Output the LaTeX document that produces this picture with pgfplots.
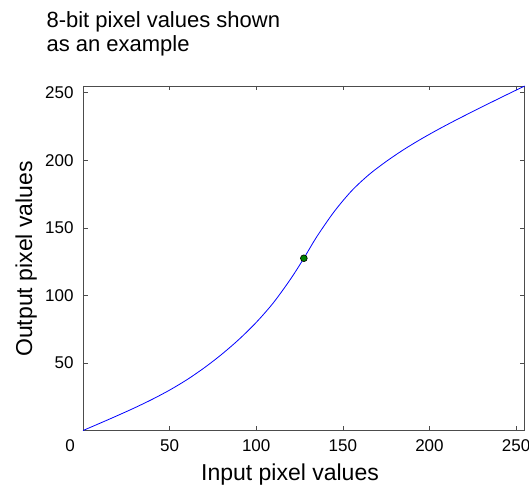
\documentclass[border=0pt]{standalone}
\usepackage{fontspec}
\setmainfont{Liberation Sans}
\usepackage{pgfplots}
\pgfplotsset{compat=1.18}

% tone curve: input level -> output level
\pgfplotstableread{
x      y
0      0
10     5.5
20     11.1
30     16.9
40     23.1
50     29.9
60     37.6
70     46.4
80     56.3
90     67.4
100    80.0
110    94.7
120    112.4
127.5  127.5
135    143.5
145    162.0
155    177.3
165    189.3
175    199.1
185    207.8
195    215.6
205    222.8
215    229.6
225    236.1
235    242.5
245    248.8
255    255
}\curvedata

\begin{document}
\begin{tikzpicture}[x=1pt,y=1pt]
\path[use as bounding box] (0,0) rectangle (529,-486);
\begin{axis}[
  at={(83pt,-430.5pt)}, anchor=south west,
  scale only axis, width=441.7pt, height=344.5pt,
  xmin=0, xmax=255, ymin=0, ymax=255,
  xtick={50,100,150,200,250},
  ytick={50,100,150,200,250},
  extra x ticks={0},
  extra x tick style={xticklabel style={xshift=-13pt}},
  tick align=inside,
  major tick length=4.5pt,
  axis line style={black!70, line width=0.8pt},
  tick style={black!70, line width=0.6pt},
  /pgf/number format/assume math mode=true,
  ticklabel style={font=\fontsize{17}{20}\selectfont},
  xticklabel style={yshift=-6pt},
  yticklabel style={xshift=-6pt},
  clip=false,
]
\addplot[blue, line width=0.8pt, smooth, tension=0.5] table[x=x, y=y] {\curvedata};
\addplot[only marks, mark=*, mark size=3.4pt,
  mark options={fill=green!50!black, draw=black, line width=0.6pt}]
  coordinates {(127.5,127.5)};
\end{axis}
\node[anchor=base west, font=\fontsize{22}{26}\selectfont] at (43,-28) {8-bit pixel values shown};
\node[anchor=base west, font=\fontsize{22}{26}\selectfont] at (43,-52) {as an example};
\node[anchor=base, font=\fontsize{23}{27}\selectfont] at (290,-480) {Input pixel values};
\node[rotate=90, anchor=base, font=\fontsize{23}{27}\selectfont] at (32,-259) {Output pixel values};
\end{tikzpicture}
\end{document}
